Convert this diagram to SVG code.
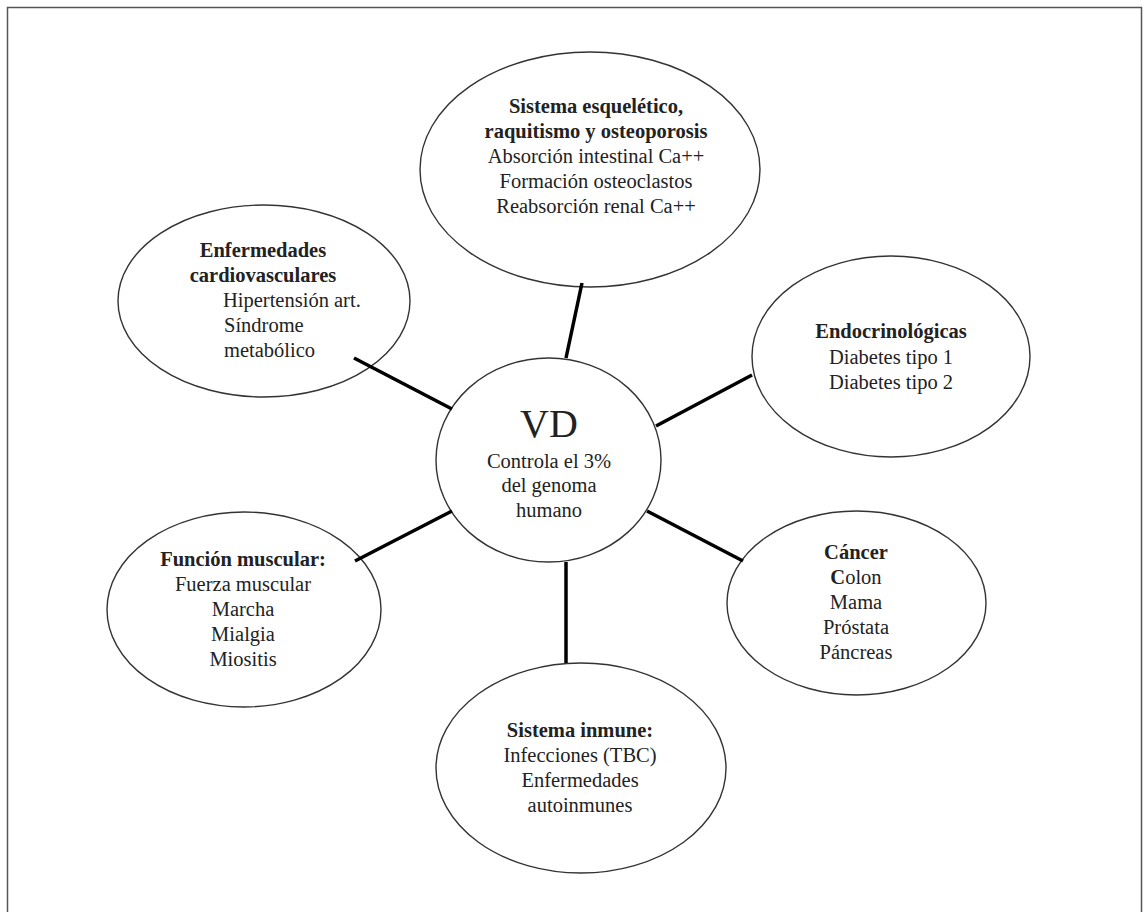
<svg xmlns="http://www.w3.org/2000/svg" width="1145" height="912" viewBox="0 0 1145 912">
<style>
.node ellipse{fill:#fff;stroke:#333;stroke-width:1.4}
text{font-family:"Liberation Serif","Times New Roman",serif;font-size:20.5px;fill:#222;text-anchor:middle}
.b{font-weight:bold}
.l{text-anchor:start}
.big{font-size:40px}
.conn line{stroke:#000;stroke-width:3.5;stroke-linecap:butt}
</style>
<rect x="0" y="0" width="1145" height="912" fill="#fff"/>
<rect x="7.5" y="7.5" width="1134" height="940" fill="none" stroke="#555" stroke-width="1.5"/>
<g id="skeletal" class="node">
<ellipse cx="590" cy="169.5" rx="170" ry="117.5"/>
<text x="596" y="113" class="b">Sistema esquelético,</text>
<text x="596" y="138" class="b">raquitismo y osteoporosis</text>
<text x="596" y="163">Absorción intestinal Ca++</text>
<text x="596" y="188">Formación osteoclastos</text>
<text x="596" y="213">Reabsorción renal Ca++</text>
</g>
<g id="cardio" class="node">
<ellipse cx="264" cy="301" rx="146" ry="96"/>
<text x="263" y="257" class="b">Enfermedades</text>
<text x="263" y="282" class="b">cardiovasculares</text>
<text x="223" y="307" class="l">Hipertensión art.</text>
<text x="224" y="332" class="l">Síndrome</text>
<text x="224" y="357" class="l">metabólico</text>
</g>
<g id="endocrine" class="node">
<ellipse cx="891" cy="356.5" rx="139" ry="100.5"/>
<text x="891" y="338" class="b">Endocrinológicas</text>
<text x="891" y="364">Diabetes tipo 1</text>
<text x="891" y="389">Diabetes tipo 2</text>
</g>
<g id="vd" class="node">
<ellipse cx="548.5" cy="460" rx="112.5" ry="102"/>
<text x="549" y="437" class="big">VD</text>
<text x="549" y="468">Controla el 3%</text>
<text x="549" y="492">del genoma</text>
<text x="549" y="517">humano</text>
</g>
<g id="muscle" class="node">
<ellipse cx="244" cy="609.5" rx="137" ry="97.5"/>
<text x="243" y="566" class="b">Función muscular:</text>
<text x="243" y="591">Fuerza muscular</text>
<text x="243" y="616">Marcha</text>
<text x="243" y="641">Mialgia</text>
<text x="243" y="666">Miositis</text>
</g>
<g id="cancer" class="node">
<ellipse cx="856.5" cy="603" rx="129.5" ry="92"/>
<text x="856" y="559" class="b">Cáncer</text>
<text x="856" y="584"><tspan class="b">C</tspan>olon</text>
<text x="856" y="609">Mama</text>
<text x="856" y="634">Próstata</text>
<text x="856" y="659">Páncreas</text>
</g>
<g id="immune" class="node">
<ellipse cx="581" cy="768" rx="145" ry="105"/>
<text x="580" y="737" class="b">Sistema inmune:</text>
<text x="580" y="762">Infecciones (TBC)</text>
<text x="580" y="787">Enfermedades</text>
<text x="580" y="812">autoinmunes</text>
</g>
<g id="connectors" class="conn">
<line x1="566" y1="358" x2="582" y2="283"/>
<line x1="452" y1="409" x2="354" y2="358"/>
<line x1="656" y1="426" x2="752" y2="375"/>
<line x1="452" y1="511" x2="355" y2="561"/>
<line x1="647" y1="511" x2="743" y2="561"/>
<line x1="566" y1="562" x2="566" y2="663"/>
</g>
</svg>
